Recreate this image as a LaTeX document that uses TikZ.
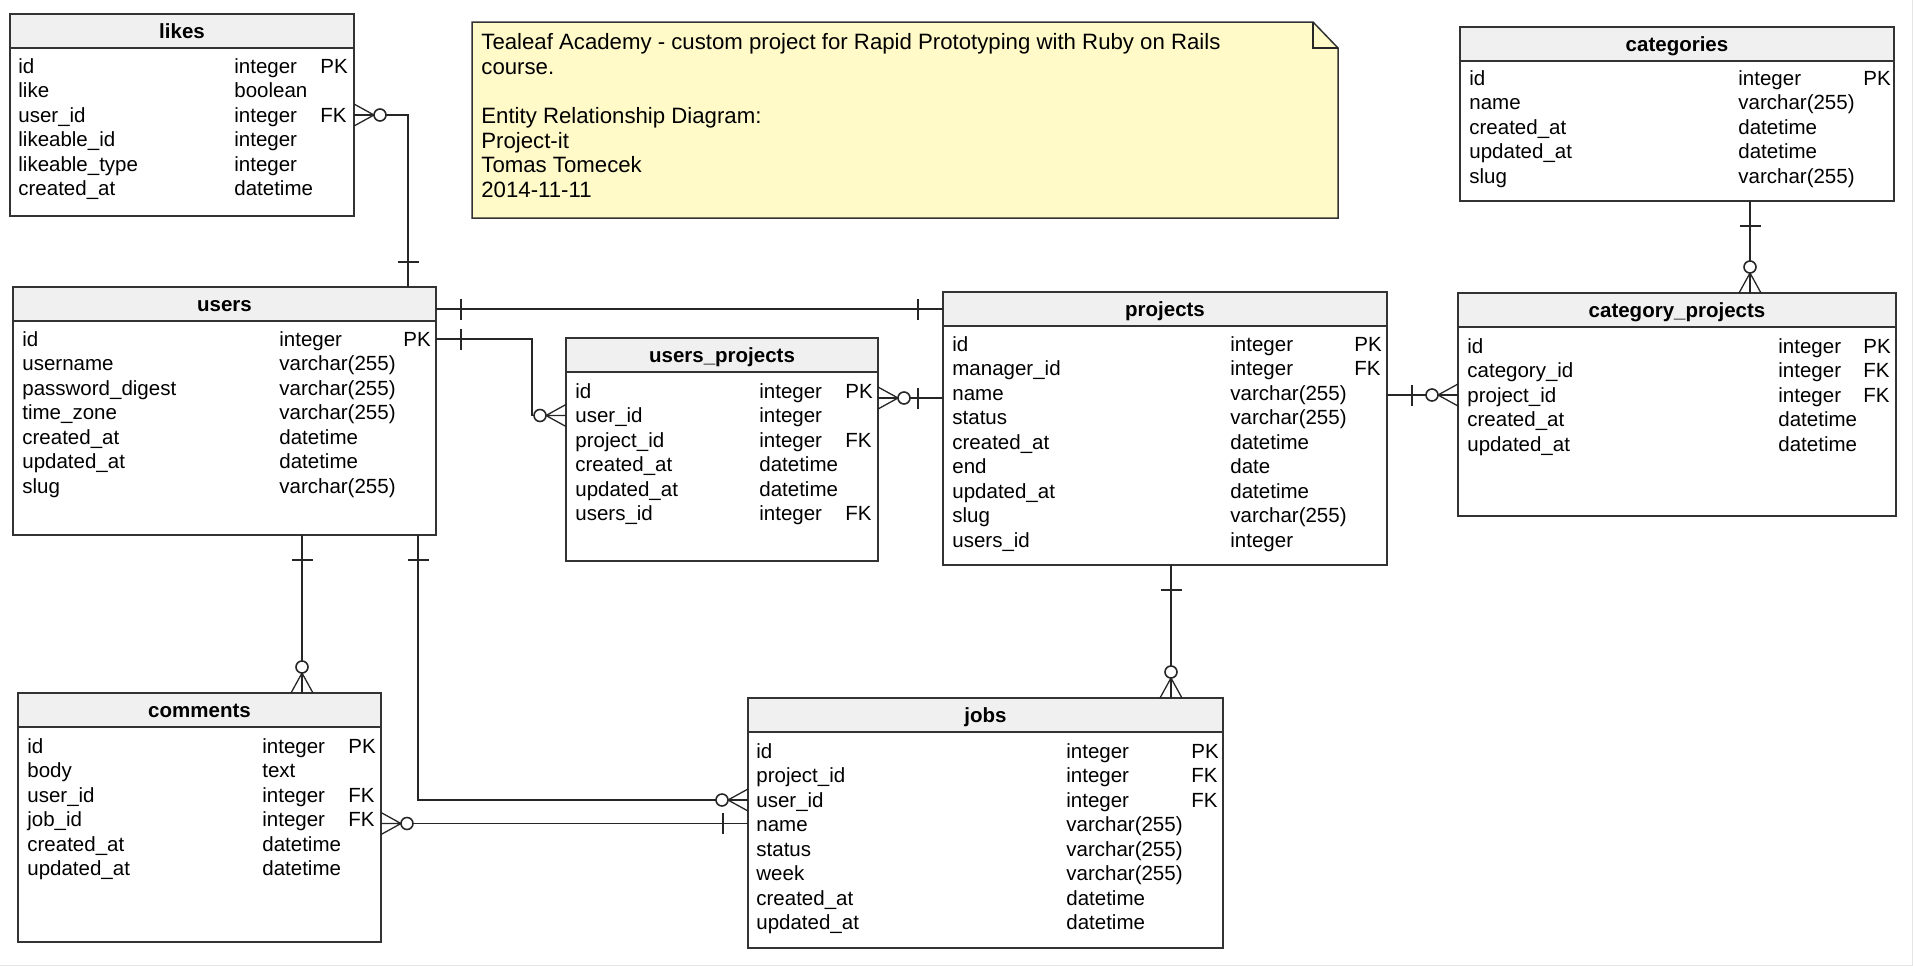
\documentclass[tikz,border=0pt]{standalone}
\usepackage{fontspec}
\setmainfont{Liberation Sans}
\usetikzlibrary{calc}

\newcommand{\tblfont}{\fontsize{10.25}{12.2}\selectfont}

\tikzset{
  tbl/.style={draw=black!80, line width=0.75pt, fill=white, inner sep=0pt, outer sep=0pt, anchor=north west},
  hdr/.style={tbl, fill=black!6, minimum height=17pt, font=\tblfont\bfseries, text height=8.5pt, text depth=1.2pt},
  fld/.style={inner sep=0pt, anchor=west, font=\tblfont, text height=8.5pt, text depth=1.2pt},
  memo/.style={draw=black!80, line width=0.75pt, fill={rgb,255:red,255;green,250;blue,200}},
  memotxt/.style={inner sep=0pt, anchor=west, font=\fontsize{11.1}{13}\selectfont, text height=9.2pt, text depth=1.3pt},
  conn/.style={draw=black!85, line width=0.65pt}
}

% zero-or-many end: #1 point on the box edge, #2 angle pointing away from the box
\newcommand{\manyend}[2]{%
  \begin{scope}[shift={(#1)},rotate=#2]
    \draw[conn] (0,-11) -- (20,0) -- (0,11) (0,0) -- (20,0);
    \draw[conn,line width=0.8pt,fill=white] (26,0) circle (6);
  \end{scope}}
% exactly-one end
\newcommand{\oneend}[2]{%
  \begin{scope}[shift={(#1)},rotate=#2]
    \draw[conn] (25,-10.5) -- (25,10.5);
  \end{scope}}

\begin{document}
\begin{tikzpicture}[x=0.5pt,y=0.5pt,yscale=-1]
\useasboundingbox (0,0) rectangle (1913,966);
\draw[black!10, line width=0.5pt] (1912.5,0) -- (1912.5,965.5) -- (0,965.5);

%Note
\draw[memo] (472,22) -- (1313,22) -- (1338,48) -- (1338,218) -- (472,218) -- cycle;
\draw[conn, line width=0.75pt] (1313,22) -- (1313,48) -- (1338,48);
\foreach \l/\y [count=\i] in {Tealeaf Academy - custom project for Rapid Prototyping with Ruby on Rails/42, course./66.5, Entity Relationship Diagram:/116, Project-it/140.5, Tomas Tomecek/165, 2014-11-11/189.5}
  \node[memotxt] (memo-\i) at (481,\y) {\l};

%Table: likes
\node[tbl, minimum width=172pt, minimum height=101pt] (likes) at (10,14) {};
\node[hdr, minimum width=172pt] (likes-h) at (10,14) {likes};
\foreach \f/\t/\k [count=\i] in {id/integer/PK, like/boolean/, user\_id/integer/FK, likeable\_id/integer/, likeable\_type/integer/, created\_at/datetime/}
  \node[fld] (likes-\i) at (18,{66+24.5*(\i-1)}) {\makebox[108pt][l]{\f}\makebox[43pt][l]{\t}\k};

%Table: categories
\node[tbl, minimum width=217pt, minimum height=87pt] (cats) at (1460,27) {};
\node[hdr, minimum width=217pt] (cats-h) at (1460,27) {categories};
\foreach \f/\t/\k [count=\i] in {id/integer/PK, name/varchar(255)/, created\_at/datetime/, updated\_at/datetime/, slug/varchar(255)/}
  \node[fld] (cats-\i) at (1469,{78+24.5*(\i-1)}) {\makebox[134.5pt][l]{\f}\makebox[62.5pt][l]{\t}\k};

%Table: users
\node[tbl, minimum width=211.5pt, minimum height=124pt] (users) at (13,287) {};
\node[hdr, minimum width=211.5pt] (users-h) at (13,287) {users};
\foreach \f/\t/\k [count=\i] in {id/integer/PK, username/varchar(255)/, password\_digest/varchar(255)/, time\_zone/varchar(255)/, created\_at/datetime/, updated\_at/datetime/, slug/varchar(255)/}
  \node[fld] (users-\i) at (22,{339+24.5*(\i-1)}) {\makebox[128.5pt][l]{\f}\makebox[62pt][l]{\t}\k};

%Table: users_projects
\node[tbl, minimum width=156pt, minimum height=111.5pt] (uproj) at (566,338) {};
\node[hdr, minimum width=156pt] (uproj-h) at (566,338) {users\_projects};
\foreach \f/\t/\k [count=\i] in {id/integer/PK, user\_id/integer/, project\_id/integer/FK, created\_at/datetime/, updated\_at/datetime/, users\_id/integer/FK}
  \node[fld] (uproj-\i) at (575,{391+24.5*(\i-1)}) {\makebox[92pt][l]{\f}\makebox[43pt][l]{\t}\k};

%Table: projects
\node[tbl, minimum width=222pt, minimum height=136.5pt] (projects) at (943,292) {};
\node[hdr, minimum width=222pt] (projects-h) at (943,292) {projects};
\foreach \f/\t/\k [count=\i] in {id/integer/PK, manager\_id/integer/FK, name/varchar(255)/, status/varchar(255)/, created\_at/datetime/, end/date/, updated\_at/datetime/, slug/varchar(255)/, users\_id/integer/}
  \node[fld] (projects-\i) at (952,{344+24.5*(\i-1)}) {\makebox[139pt][l]{\f}\makebox[62pt][l]{\t}\k};

%Table: category_projects
\node[tbl, minimum width=219pt, minimum height=111.5pt] (catproj) at (1458,293) {};
\node[hdr, minimum width=219pt] (catproj-h) at (1458,293) {category\_projects};
\foreach \f/\t/\k [count=\i] in {id/integer/PK, category\_id/integer/FK, project\_id/integer/FK, created\_at/datetime/, updated\_at/datetime/}
  \node[fld] (catproj-\i) at (1467,{346+24.5*(\i-1)}) {\makebox[155.5pt][l]{\f}\makebox[42.5pt][l]{\t}\k};

%Table: comments
\node[tbl, minimum width=181.5pt, minimum height=124.5pt] (comments) at (18,693) {};
\node[hdr, minimum width=181.5pt] (comments-h) at (18,693) {comments};
\foreach \f/\t/\k [count=\i] in {id/integer/PK, body/text/, user\_id/integer/FK, job\_id/integer/FK, created\_at/datetime/, updated\_at/datetime/}
  \node[fld] (comments-\i) at (27,{746+24.5*(\i-1)}) {\makebox[117.5pt][l]{\f}\makebox[43pt][l]{\t}\k};

%Table: jobs
\node[tbl, minimum width=237.5pt, minimum height=125pt] (jobs) at (748,698) {};
\node[hdr, minimum width=237.5pt] (jobs-h) at (748,698) {jobs};
\foreach \f/\t/\k [count=\i] in {id/integer/PK, project\_id/integer/FK, user\_id/integer/FK, name/varchar(255)/, status/varchar(255)/, week/varchar(255)/, created\_at/datetime/, updated\_at/datetime/}
  \node[fld] (jobs-\i) at (756,{751+24.5*(\i-1)}) {\makebox[155pt][l]{\f}\makebox[62.5pt][l]{\t}\k};

%Connector points
\coordinate (lk-us) at ($(users.north west)+(395,0)$);
\coordinate (up-pr) at ($(uproj.north east)+(0,60)$);
\coordinate (ca-cp) at ($(cats.south west)+(290,0)$);
\coordinate (pr-jb) at ($(projects.south west)+(228,0)$);
\coordinate (us-cm) at ($(users.south west)+(289,0)$);
\coordinate (us-jb) at ($(users.south west)+(405,0)$);
\coordinate (cm-jb) at ($(comments.east |- comments-4)+(0,4)$);

%likes -- users
\draw[conn] (likes.east |- likes-3) -| (lk-us);
\manyend{likes.east |- likes-3}{0}
\oneend{lk-us}{-90}
%users -- projects
\draw[conn] (users.east |- projects-h) -- (projects-h.west);
\oneend{users.east |- projects-h}{0}
\oneend{projects-h.west}{180}
%users -- users_projects
\draw[conn] (users.east |- users-1) -- ++(96,0) |- (uproj.west |- uproj-2);
\oneend{users.east |- users-1}{0}
\manyend{uproj.west |- uproj-2}{180}
%users_projects -- projects
\draw[conn] (up-pr) -- (projects.west |- up-pr);
\manyend{up-pr}{0}
\oneend{projects.west |- up-pr}{180}
%projects -- category_projects
\draw[conn] (projects.east |- catproj-3) -- (catproj.west |- catproj-3);
\oneend{projects.east |- catproj-3}{0}
\manyend{catproj.west |- catproj-3}{180}
%categories -- category_projects
\draw[conn] (ca-cp) -- (catproj.north -| ca-cp);
\oneend{ca-cp}{90}
\manyend{catproj.north -| ca-cp}{-90}
%projects -- jobs
\draw[conn] (pr-jb) -- (jobs.north -| pr-jb);
\oneend{pr-jb}{90}
\manyend{jobs.north -| pr-jb}{-90}
%users -- comments
\draw[conn] (us-cm) -- (comments.north -| us-cm);
\oneend{us-cm}{90}
\manyend{comments.north -| us-cm}{-90}
%users -- jobs
\draw[conn] (us-jb) |- (jobs.west |- jobs-3);
\oneend{us-jb}{90}
\manyend{jobs.west |- jobs-3}{180}
%comments -- jobs
\draw[conn] (cm-jb) -- (jobs.west |- cm-jb);
\manyend{cm-jb}{0}
\oneend{jobs.west |- cm-jb}{180}

\end{tikzpicture}
\end{document}
